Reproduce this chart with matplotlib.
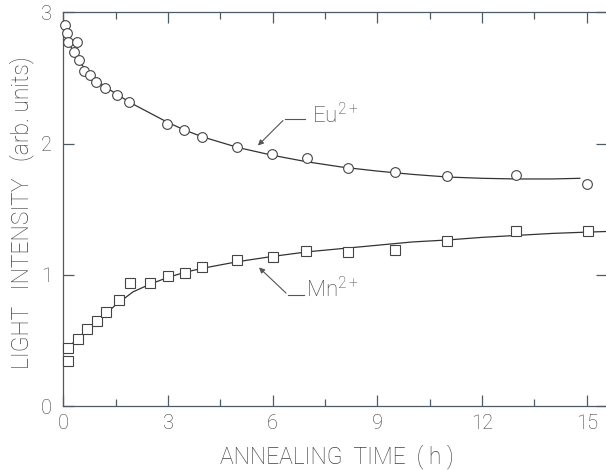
import matplotlib
matplotlib.use("Agg")
import matplotlib.pyplot as plt
from matplotlib.ticker import MultipleLocator

# Eu2+ measured points (circles)
eu_t = [0.06, 0.10, 0.14, 0.32, 0.39, 0.44, 0.58, 0.77, 0.94, 1.20, 1.53, 1.88,
        2.98, 3.47, 3.97, 4.99, 5.98, 6.98, 8.16, 9.49, 10.99, 12.98, 15.00]
eu_y = [2.90, 2.84, 2.77, 2.70, 2.77, 2.64, 2.55, 2.52, 2.47, 2.42, 2.37, 2.32,
        2.15, 2.10, 2.05, 1.97, 1.92, 1.89, 1.81, 1.78, 1.75, 1.76, 1.69]

# Eu2+ fitted curve
eu_ct = [0.0, 0.25, 0.5, 0.75, 1.0, 1.5, 2.0, 2.5, 3.0, 3.5, 4.0, 5.0, 6.0, 7.0,
         8.0, 9.0, 10.0, 11.0, 12.0, 13.0, 14.0, 14.8]
eu_cy = [2.86, 2.72, 2.61, 2.53, 2.47, 2.38, 2.30, 2.23, 2.16, 2.10, 2.05, 1.97,
         1.91, 1.86, 1.82, 1.79, 1.765, 1.745, 1.735, 1.73, 1.73, 1.735]

# Mn2+ measured points (squares)
mn_t = [0.14, 0.14, 0.41, 0.68, 0.97, 1.23, 1.61, 1.90, 2.47, 3.00, 3.48, 3.97,
        4.99, 6.01, 6.96, 8.15, 9.49, 10.99, 12.98, 15.04]
mn_y = [0.44, 0.34, 0.51, 0.59, 0.645, 0.72, 0.81, 0.94, 0.94, 0.99, 1.01, 1.06,
        1.11, 1.135, 1.18, 1.17, 1.19, 1.26, 1.33, 1.335]

# Mn2+ fitted curve
mn_ct = [0.14, 0.5, 1.0, 1.5, 2.0, 2.5, 3.0, 3.5, 4.0, 5.0, 6.0, 7.0, 8.0, 9.0,
         10.0, 11.0, 12.0, 13.0, 14.0, 15.0, 15.6]
mn_cy = [0.45, 0.53, 0.65, 0.77, 0.87, 0.93, 0.98, 1.02, 1.05, 1.10, 1.14, 1.175,
         1.20, 1.225, 1.25, 1.265, 1.285, 1.30, 1.315, 1.325, 1.33]

xticks = [0, 3, 6, 9, 12, 15]
yticks = [0, 1, 2, 3]

txt = "#404040"
ax_col = "#4d5a68"
line_col = "#333333"
plt.rcParams['font.family'] = ['Roboto', 'DejaVu Sans']
plt.rcParams['font.weight'] = 'light'
plt.rcParams['axes.labelweight'] = 'light'
plt.rcParams['mathtext.fontset'] = 'custom'
plt.rcParams['mathtext.rm'] = 'Roboto:light'
plt.rcParams['mathtext.it'] = 'Roboto:light'
plt.rcParams['mathtext.default'] = 'rm'

W, H = 606, 470
fig = plt.figure(figsize=(W/100, H/100), dpi=100)
x0, x1, y_top, y_bot = 63.3, 607, 12.3, 406
ax = fig.add_axes([x0/W, 1-y_bot/H, (x1-x0)/W, (y_bot-y_top)/H])

ax.plot(eu_ct, eu_cy, color=line_col, lw=0.9, zorder=2)
ax.plot(mn_ct, mn_cy, color=line_col, lw=0.9, zorder=2)
ax.plot(eu_t, eu_y, 'o', ms=7, mfc='white', mec='#444444', mew=0.8, zorder=3, clip_on=False)
ax.plot(mn_t, mn_y, 's', ms=6.5, mfc='white', mec='#444444', mew=0.8, zorder=3, clip_on=False)

ax.set_xlim(0, (x1-x0)/34.9)
ax.set_ylim(0, 3)
ax.set_xticks(xticks)
ax.set_yticks(yticks)
ax.set_xticklabels([str(v) for v in xticks])
ax.set_yticklabels([str(v) for v in yticks])
ax.xaxis.set_minor_locator(MultipleLocator(1.5))

for s in ax.spines.values():
    s.set_color(ax_col)
    s.set_linewidth(0.9)
ax.spines['right'].set_visible(False)

ax.tick_params(which='both', direction='in', top=True, right=True, colors=ax_col,
               labelcolor=txt, labelsize=14.5, width=0.9)
ax.tick_params(which='major', length=8, pad=6)
ax.tick_params(axis='y', which='major', pad=8)
ax.tick_params(which='minor', length=5)
ax.tick_params(axis='y', which='minor', left=False, right=False)

# axis titles placed at the reference positions
fig.text(337/W, 1-463/H, "ANNEALING  TIME  ( h )", fontsize=16.5, color=txt,
         ha='center', va='baseline', fontweight='light')
fig.text(28.3/W, 1-212.5/H, "LIGHT   INTENSITY   (arb. units)", fontsize=16.5,
         color=txt, ha='center', va='baseline', rotation=90, rotation_mode='anchor',
         fontweight='light')

# annotations
ax.annotate("", xy=(5.52, 1.97), xytext=(6.35, 2.19),
            arrowprops=dict(arrowstyle="-|>", color='#555555', lw=0.8, mutation_scale=8))
ax.plot([6.35, 6.92], [2.19, 2.19], color='#555555', lw=0.8)
ax.text(7.12, 2.21, r"Eu$^{2+}$", fontsize=16, color=txt, va='center', ha='left',
        fontweight='light')

ax.annotate("", xy=(5.55, 1.07), xytext=(6.44, 0.846),
            arrowprops=dict(arrowstyle="-|>", color='#555555', lw=0.8, mutation_scale=8))
ax.plot([6.44, 6.90], [0.846, 0.846], color='#555555', lw=0.8)
ax.text(6.95, 0.89, r"Mn$^{2+}$", fontsize=16, color=txt, va='center', ha='left',
        fontweight='light')

fig.savefig("out.png", dpi=100)
